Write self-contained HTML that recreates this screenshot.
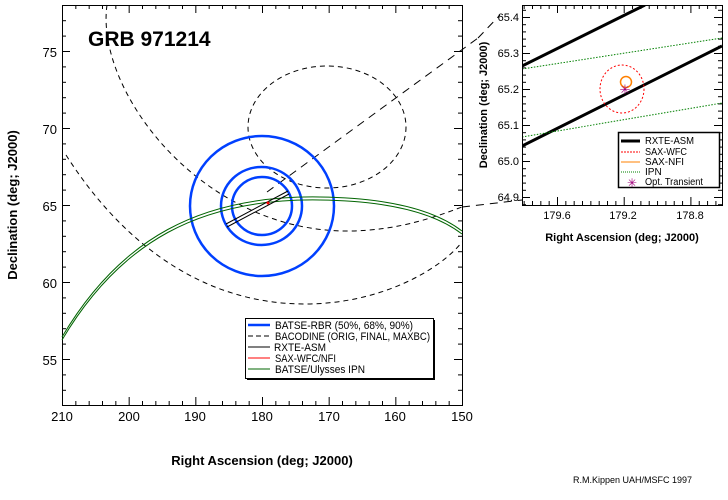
<!DOCTYPE html>
<html><head><meta charset="utf-8"><style>
body{margin:0;background:#fff}
svg{display:block}
text{font-family:"Liberation Sans",sans-serif}
</style></head><body>
<svg id="s" width="728" height="500" viewBox="0 0 728 500" xmlns="http://www.w3.org/2000/svg">
<rect width="728" height="500" fill="#fff"/>
<g id="ticks" stroke="#000" stroke-width="1"></g>
<rect x="62.5" y="5.5" width="400" height="400" fill="none" stroke="#000"/>
<text x="88" y="46" font-size="21" font-weight="bold">GRB 971214</text>
<g fill="none" stroke="#000" stroke-width="1" stroke-dasharray="5,4">
<ellipse cx="327" cy="127" rx="79" ry="61"/>
<path d="M107,5 C95,90 200,231 347,231 C400,231 440,215 462,207"/>
<path d="M66,155 C120,240 200,304 305,304 C380,304 440,270 462,242"/>
<path d="M267,192 L478,38" stroke-dasharray="8,6"/>
<path d="M462,207 L522,200" stroke-dasharray="8,6"/>
<path d="M478,38 L500,15" stroke-dasharray="8,6"/>
</g>
<g fill="none" stroke="#0040ff" stroke-width="2.5">
<ellipse cx="262" cy="206" rx="72" ry="70"/>
<ellipse cx="261.5" cy="206" rx="40.5" ry="39"/>
<ellipse cx="262" cy="206" rx="30" ry="29"/>
</g>
<g fill="none" stroke="#006400" stroke-width="1">
<path d="M62,337 C120,239 200,195 320,197 C400,198 440,214 462,231"/>
<path d="M62,340 C120,242 200,198 320,200 C400,201 440,217 462,234"/>
</g>
<g stroke="#000" stroke-width="1">
<line x1="226" y1="224" x2="288" y2="191"/>
<line x1="227" y1="227" x2="289" y2="194"/>
</g>
<circle cx="268" cy="203" r="1.5" fill="#f00"/>
<g font-size="13" text-anchor="end">
<text x="57" y="57">75</text><text x="57" y="134">70</text><text x="57" y="211">65</text><text x="57" y="288">60</text><text x="57" y="365">55</text>
</g>
<g font-size="13" text-anchor="middle">
<text x="62" y="421">210</text><text x="129" y="421">200</text><text x="195" y="421">190</text><text x="262" y="421">180</text><text x="329" y="421">170</text><text x="395" y="421">160</text><text x="462" y="421">150</text>
</g>
<text x="262" y="465" font-size="13" font-weight="bold" text-anchor="middle">Right Ascension (deg; J2000)</text>
<text transform="translate(17,205) rotate(-90)" font-size="13" font-weight="bold" text-anchor="middle">Declination (deg; J2000)</text>
<rect x="247" y="320" width="188" height="60" fill="#000"/>
<rect x="245.5" y="318.5" width="188" height="60" fill="#fff" stroke="#000"/>
<g font-size="11">
<line x1="248" y1="325" x2="270" y2="325" stroke="#0040ff" stroke-width="2.5"/><text x="275" y="329" textLength="138" lengthAdjust="spacingAndGlyphs">BATSE-RBR (50%, 68%, 90%)</text>
<line x1="248" y1="336" x2="270" y2="336" stroke="#000" stroke-dasharray="5,3"/><text x="275" y="340" textLength="155" lengthAdjust="spacingAndGlyphs">BACODINE (ORIG, FINAL, MAXBC)</text>
<line x1="248" y1="347" x2="270" y2="347" stroke="#000"/><text x="274" y="351" textLength="52" lengthAdjust="spacingAndGlyphs">RXTE-ASM</text>
<line x1="248" y1="358" x2="270" y2="358" stroke="#f00"/><text x="275" y="362" textLength="61" lengthAdjust="spacingAndGlyphs">SAX-WFC/NFI</text>
<line x1="248" y1="369" x2="270" y2="369" stroke="#006400"/><text x="275" y="373" textLength="90" lengthAdjust="spacingAndGlyphs">BATSE/Ulysses IPN</text>
</g>
<svg x="522" y="5" width="200" height="200" overflow="hidden">
<g fill="none">
<line x1="0" y1="61" x2="123" y2="0" stroke="#000" stroke-width="3"/>
<line x1="0" y1="141" x2="200" y2="41" stroke="#000" stroke-width="3"/>
<line x1="0" y1="64" x2="200" y2="33" stroke="#008000" stroke-dasharray="1.5,1.5"/>
<line x1="0" y1="132" x2="200" y2="98" stroke="#008000" stroke-dasharray="1.5,1.5"/>
<ellipse cx="100" cy="84" rx="22" ry="24" stroke="#f00" stroke-dasharray="2,2"/>
<circle cx="104" cy="77" r="5.5" stroke="#ff8000" stroke-width="1.5"/>
</g>
<text x="103" y="89" font-size="13" fill="#a0007a" text-anchor="middle">✳</text>
</svg>
<rect x="522.5" y="5.5" width="200" height="200" fill="none" stroke="#000"/>
<rect x="618.5" y="132.5" width="101" height="55" fill="#fff" stroke="#000" stroke-width="1.5"/>
<g font-size="10">
<line x1="621" y1="141" x2="640" y2="141" stroke="#000" stroke-width="3"/><text x="645" y="144" textLength="49" lengthAdjust="spacingAndGlyphs">RXTE-ASM</text>
<line x1="621" y1="152" x2="640" y2="152" stroke="#f00" stroke-dasharray="2,1"/><text x="645" y="155" textLength="42" lengthAdjust="spacingAndGlyphs">SAX-WFC</text>
<line x1="621" y1="162" x2="640" y2="162" stroke="#ff8000"/><text x="645" y="165" textLength="39" lengthAdjust="spacingAndGlyphs">SAX-NFI</text>
<line x1="621" y1="172" x2="640" y2="172" stroke="#008000" stroke-dasharray="1,1"/><text x="645" y="175">IPN</text>
<text x="632" y="187" font-size="12" fill="#a0007a" text-anchor="middle">✳</text><text x="645" y="185" textLength="58" lengthAdjust="spacingAndGlyphs">Opt. Transient</text>
</g>
<g font-size="11" text-anchor="end">
<text x="519" y="21">65.4</text><text x="519" y="57">65.3</text><text x="519" y="93">65.2</text><text x="519" y="129">65.1</text><text x="519" y="165">65.0</text><text x="519" y="201">64.9</text>
</g>
<g font-size="11" text-anchor="middle">
<text x="557" y="219">179.6</text><text x="623" y="219">179.2</text><text x="690" y="219">178.8</text>
</g>
<text x="622" y="241" font-size="11" font-weight="bold" text-anchor="middle">Right Ascension (deg; J2000)</text>
<text transform="translate(487,105) rotate(-90)" font-size="11" font-weight="bold" text-anchor="middle">Declination (deg; J2000)</text>
<text x="573" y="483" font-size="9">R.M.Kippen UAH/MSFC 1997</text>
</svg>
<script>
var g=document.getElementById('ticks'),h='';
function L(a,b,c,d){h+='<line x1="'+a+'" y1="'+b+'" x2="'+c+'" y2="'+d+'"/>';}
for(var i=0;i<=30;i++){var x=62.5+i*400/30,l=(i%5==0)?8:4;L(x,405,x,405-l);L(x,5,x,5+l);}
for(var d=52;d<=77;d++){var y=359.5-(d-55)*15.4;if(y<5||y>405)continue;var l=(d%5==0)?8:4;L(62,y,62+l,y);L(462,y,462-l,y);}
for(var i=-4;i<=30;i++){var x=557+i*66.7/8;if(x<522||x>722)continue;var l=(i%8==0)?8:4;L(x+.5,205,x+.5,205-l);L(x+.5,5,x+.5,5+l);}
for(var i=-2;i<=30;i++){var y=17+i*7.2;if(y<5||y>205)continue;var l=(i%5==0)?8:4;L(522,y+.5,522+l,y+.5);L(722,y+.5,722-l,y+.5);}
g.innerHTML=h;
</script>
</body></html>
